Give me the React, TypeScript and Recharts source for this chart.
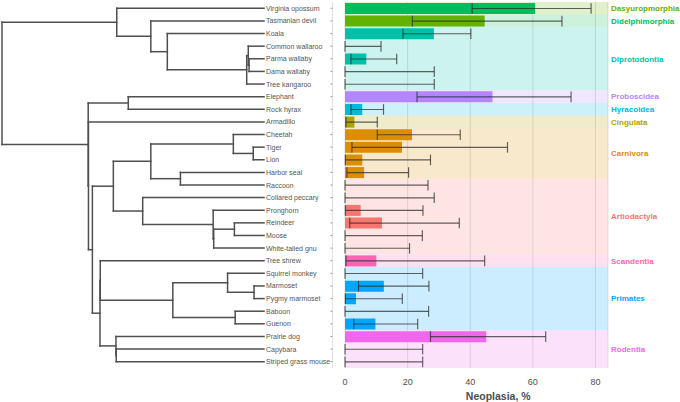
import React from 'react'
import {
  ComposedChart,
  Bar,
  Line,
  Cell,
  XAxis,
  YAxis,
  CartesianGrid,
  ReferenceArea
} from 'recharts'

// species, top to bottom (tree tip order)
const species = [
  'Virginia opossum', 'Tasmanian devil', 'Koala', 'Common wallaroo', 'Parma wallaby',
  'Dama wallaby', 'Tree kangaroo', 'Elephant', 'Rock hyrax', 'Armadillo',
  'Cheetah', 'Tiger', 'Lion', 'Harbor seal', 'Raccoon',
  'Collared peccary', 'Pronghorn', 'Reindeer', 'Moose', 'White-tailed gnu',
  'Tree shrew', 'Squirrel monkey', 'Marmoset', 'Pygmy marmoset', 'Baboon',
  'Guenon', 'Prairie dog', 'Capybara', 'Striped grass mouse'
]

// neoplasia prevalence (%) and its confidence interval
const neoplasia = [60.7, 44.6, 28.4, 0, 6.8, 0, 0, 47.1, 5.5, 3.0, 21.4, 18.2, 5.5, 6.1, 0, 0, 5.0, 11.8, 0, 0, 10.0, 0, 12.4, 3.5, 0, 9.7, 45.1, 0, 0]
const ciLow = [40.6, 21.5, 18.5, 0, 1.9, 0, 0, 23.0, 1.9, 0.3, 10.3, 2.2, 0.1, 0.6, 0, 0, 0.1, 1.5, 0, 0, 0.3, 0, 4.3, 0.1, 0, 2.8, 27.3, 0, 0]
const ciHigh = [78.6, 69.3, 40.2, 11.5, 16.5, 28.5, 28.5, 72.2, 12.3, 10.3, 36.8, 51.9, 27.3, 20.3, 26.5, 28.5, 24.9, 36.5, 24.7, 20.6, 44.6, 24.8, 26.8, 18.3, 26.7, 23.2, 64.1, 24.8, 24.8]

// order used to colour each bar
const barOrder = [
  'Didelphimorphia', 'Dasyuropmorphia', 'Diprotodontia', 'Diprotodontia', 'Diprotodontia',
  'Diprotodontia', 'Diprotodontia', 'Proboscidea', 'Hyracoidea', 'Cingulata',
  'Carnivora', 'Carnivora', 'Carnivora', 'Carnivora', 'Carnivora',
  'Artiodactyla', 'Artiodactyla', 'Artiodactyla', 'Artiodactyla', 'Artiodactyla',
  'Scandentia', 'Primates', 'Primates', 'Primates', 'Primates',
  'Primates', 'Rodentia', 'Rodentia', 'Rodentia'
]

const orderColors: Record<string, string> = {
  Artiodactyla: '#F8766D',
  Carnivora: '#DB8E00',
  Cingulata: '#AEA200',
  Dasyuropmorphia: '#64B200',
  Didelphimorphia: '#00BD5C',
  Diprotodontia: '#00C1A7',
  Hyracoidea: '#00BADE',
  Primates: '#00A6FF',
  Proboscidea: '#B385FF',
  Rodentia: '#EF67EB',
  Scandentia: '#FF63B6'
}

// background bands: [order, first row, last row]
const bands: [string, number, number][] = [
  ['Dasyuropmorphia', 0, 0],
  ['Didelphimorphia', 1, 1],
  ['Diprotodontia', 2, 6],
  ['Proboscidea', 7, 7],
  ['Hyracoidea', 8, 8],
  ['Cingulata', 9, 9],
  ['Carnivora', 10, 13],
  ['Artiodactyla', 14, 19],
  ['Scandentia', 20, 20],
  ['Primates', 21, 25],
  ['Rodentia', 26, 28]
]

const xTicks = [0, 20, 40, 60, 80]
const xDomain = [-4, 84]

// tree internal nodes: [id, depth (root 0, tips 100), children]
const tipDepth = 100
const treeNodes: [string, number, string[]][] = [
  ['root', 0, ['marsupials', 'placentals']],
  ['marsupials', 43.8, ['Virginia opossum', 'australidelphia']],
  ['australidelphia', 56.8, ['Tasmanian devil', 'diprotodontia']],
  ['diprotodontia', 63.1, ['Koala', 'macropods']],
  ['macropods', 93.4, ['macropodinae', 'Tree kangaroo']],
  ['macropodinae', 94.0, ['Common wallaroo', 'wallabies']],
  ['wallabies', 94.3, ['Parma wallaby', 'Dama wallaby']],
  ['placentals', 32.9, ['afrotheria', 'exafroplacentalia']],
  ['afrotheria', 48.2, ['Elephant', 'Rock hyrax']],
  ['exafroplacentalia', 33.0, ['Armadillo', 'boreoeutheria']],
  ['boreoeutheria', 34.5, ['laurasiatheria', 'euarchontoglires']],
  ['laurasiatheria', 42.5, ['carnivora', 'cetartiodactyla']],
  ['carnivora', 56.8, ['felidae', 'caniformia']],
  ['felidae', 88.3, ['Cheetah', 'pantherinae']],
  ['pantherinae', 95.9, ['Tiger', 'Lion']],
  ['caniformia', 68.1, ['Harbor seal', 'Raccoon']],
  ['cetartiodactyla', 53.7, ['Collared peccary', 'ruminants']],
  ['ruminants', 80.6, ['Pronghorn', 'ruminants2']],
  ['ruminants2', 80.8, ['cervidae', 'White-tailed gnu']],
  ['cervidae', 88.7, ['Reindeer', 'Moose']],
  ['euarchontoglires', 37.4, ['euarchonta', 'rodentia']],
  ['euarchonta', 37.5, ['Tree shrew', 'primates']],
  ['primates', 65.2, ['platyrrhini', 'catarrhini']],
  ['platyrrhini', 86.1, ['Squirrel monkey', 'callitrichidae']],
  ['callitrichidae', 96.2, ['Marmoset', 'Pygmy marmoset']],
  ['catarrhini', 89.0, ['Baboon', 'Guenon']],
  ['rodentia', 43.5, ['Prairie dog', 'rodentia2']],
  ['rodentia2', 43.6, ['Capybara', 'Striped grass mouse']]
]

const rows = species.map((s, i) => ({
  species: s,
  value: neoplasia[i],
  ci: [ciLow[i], ciHigh[i]],
  color: orderColors[barOrder[i]]
}))

const nodeMap = new Map(treeNodes.map(n => [n[0], n]))
const nodeY = (id: string): number => {
  const n = nodeMap.get(id)
  if (!n) return species.indexOf(id)
  const ys = n[2].map(nodeY)
  return (ys[0] + ys[ys.length - 1]) / 2
}
const nodeDepth = (id: string) => nodeMap.get(id)?.[1] ?? tipDepth

// each branch is a 2-point line (vertical connector + horizontal stems)
const segments: { x: number; y: number }[][] = []
treeNodes.forEach(([, depth, kids]) => {
  const ys = kids.map(nodeY)
  segments.push([{ x: depth, y: ys[0] }, { x: depth, y: ys[ys.length - 1] }])
  kids.forEach((k, j) => {
    segments.push([{ x: depth, y: ys[j] }, { x: nodeDepth(k), y: ys[j] }])
  })
})

const font = '"Liberation Sans", Arial, Helvetica, sans-serif'

const SpeciesTick = (props: any) => {
  const { x, y, payload } = props
  return (
    <text x={x - 64.5} y={y} dy={2.5} fontSize={7} fill="#555" textAnchor="start">
      {payload.value}
    </text>
  )
}

// whisker drawn from the range bar's own geometry
const CiShape = (props: any) => {
  const { x, y, width, height } = props
  if (x == null || y == null) return null
  const cy = y + height / 2
  const cap = 5.3
  return (
    <g stroke="#2e2e2e" strokeOpacity={0.75} strokeWidth={1.15}>
      <line x1={x} x2={x + width} y1={cy} y2={cy} />
      <line x1={x} x2={x} y1={cy - cap} y2={cy + cap} />
      <line x1={x + width} x2={x + width} y1={cy - cap} y2={cy + cap} />
    </g>
  )
}

export default function App() {
  return (
    <div style={{ position: 'relative', width: 680, height: 402, fontFamily: font, background: '#fff' }}>
      <style>{'body{margin:0}'}</style>

      {/* tree */}
      <div style={{ position: 'absolute', left: 0, top: 0 }}>
        <ComposedChart width={266} height={402} margin={{ top: 2, right: 2, bottom: 34, left: 2 }}>
          <XAxis type="number" dataKey="x" domain={[0, tipDepth]} hide allowDuplicatedCategory={false} />
          <YAxis type="number" dataKey="y" domain={[-0.5, species.length - 0.5]} reversed hide />
          {segments.map((seg, i) => (
            <Line
              key={i}
              data={seg}
              dataKey="y"
              type="linear"
              stroke="#4f4f4f"
              strokeWidth={1.5}
              strokeLinecap="square"
              dot={false}
              activeDot={false}
              isAnimationActive={false}
            />
          ))}
        </ComposedChart>
      </div>

      {/* bars */}
      <div style={{ position: 'absolute', left: 0, top: 0 }}>
        <ComposedChart
          layout="vertical"
          width={680}
          height={402}
          data={rows}
          margin={{ top: 2, right: 72, bottom: 0, left: 0 }}
        >
          <CartesianGrid horizontal={false} stroke="#d8d8d8" strokeWidth={0.8} />
          {bands.map(([name, a, b]) => (
            <ReferenceArea
              key={name}
              x1={0}
              x2={xDomain[1]}
              y1={species[a]}
              y2={species[b]}
              fill={orderColors[name]}
              fillOpacity={0.2}
              stroke="none"
              ifOverflow="visible"
              label={{ value: name, position: 'right', offset: 3, fill: orderColors[name], fontSize: 8, fontWeight: 'bold' }}
            />
          ))}
          <XAxis
            type="number"
            domain={xDomain}
            ticks={xTicks}
            axisLine={false}
            tickLine={false}
            tickSize={0}
            tickMargin={11}
            height={34}
            tick={{ fill: '#4d4d4d', fontSize: 9 }}
            label={{ value: 'Neoplasia, %', position: 'insideBottom', offset: 2, dx: 28, fill: '#4d4d4d', fontSize: 10.5, fontWeight: 'bold' }}
          />
          <YAxis
            type="category"
            dataKey="species"
            width={332.5}
            interval={0}
            axisLine={false}
            tickSize={2}
            tickMargin={0}
            tickLine={{ stroke: '#999' }}
            tick={<SpeciesTick />}
          />
          <YAxis yAxisId="ci" type="category" dataKey="species" hide />
          <Bar dataKey="value" barSize={11} isAnimationActive={false}>
            {rows.map((r, i) => (
              <Cell key={i} fill={r.color} />
            ))}
          </Bar>
          <Bar yAxisId="ci" dataKey="ci" barSize={11} shape={<CiShape />} isAnimationActive={false} />
        </ComposedChart>
      </div>
    </div>
  )
}
